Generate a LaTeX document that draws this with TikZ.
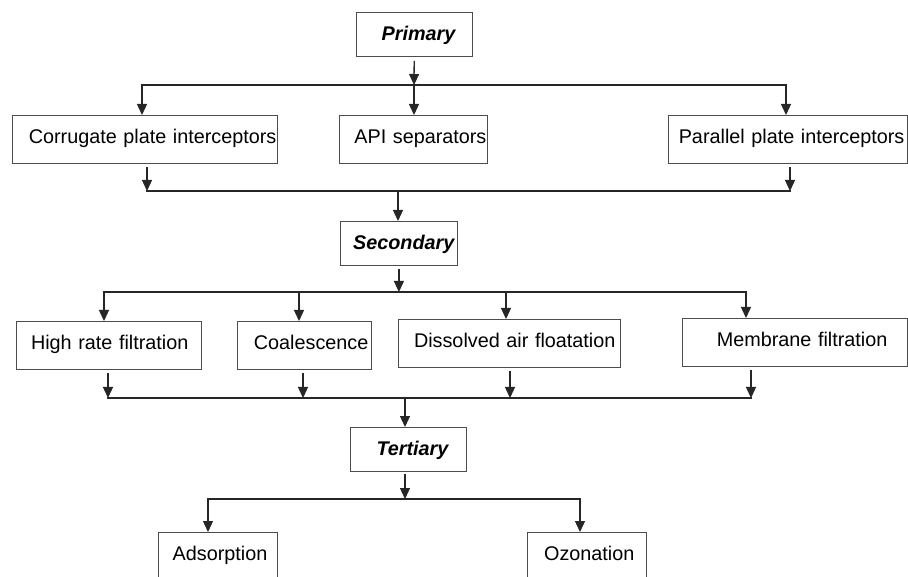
\documentclass[tikz,border=0pt]{standalone}
\usepackage{fontspec}
\setmainfont{Liberation Sans}
\usetikzlibrary{arrows.meta, positioning, calc}

\begin{document}
\begin{tikzpicture}[
    x=1pt, y=-1pt,
    box/.style={rectangle, draw=black!70, line width=0.8pt, anchor=north west,
                minimum height=48pt, inner xsep=1pt, inner ysep=0pt,
                text height=13pt, text depth=4pt, align=right,
                font=\fontsize{19.8}{23}\selectfont},
    stage/.style={box, minimum height=44pt, text height=15pt, text depth=2pt,
                font=\fontsize{19.8}{23}\selectfont\bfseries\itshape},
    arrow/.style={-{Triangle[length=11pt, width=10pt]}, line width=1.3pt, black!85},
    bus/.style={line width=1.3pt, black!85, line cap=rect}
]
    \useasboundingbox (0,0) rectangle (908,577);

    % stages
    \node[stage, minimum width=116pt, text width=82pt] (primary) at (356,12) {Primary};
    \node[stage, minimum width=117pt, text width=111pt] (secondary) at (340,221) {Secondary};
    \node[stage, minimum width=116pt, text width=80pt] (tertiary) at (350,427) {Tertiary};

    % primary methods
    \node[box, minimum width=265pt, text width=263pt] (corrugate) at (12,115) {Corrugate plate interceptors};
    \node[box, minimum width=148pt, text width=146pt] (api) at (339,115) {API separators};
    \node[box, minimum width=239pt, text width=233pt] (parallel) at (668,115) {Parallel plate interceptors};

    % secondary methods
    \node[box, minimum width=185pt, text width=159pt] (highrate) at (16,321) {High rate filtration};
    \node[box, minimum width=134pt, text width=128pt] (coalesce) at (237,321) {Coalescence};
    \node[box, minimum width=222pt, text width=212pt] (dissolved) at (398,319) {Dissolved air floatation};
    \node[box, minimum width=225pt, text width=185pt] (membrane) at (682,318) {Membrane filtration};

    % tertiary methods
    \node[box, minimum width=119pt, text width=99pt] (adsorption) at (158,532) {Adsorption};
    \node[box, minimum width=119pt, text width=95pt] (ozonation) at (527,532) {Ozonation};

    % bus points
    \coordinate (p1) at (142,85);  \coordinate (p2) at (414,85);  \coordinate (p3) at (786,85);
    \coordinate (q1) at (147,191); \coordinate (q2) at (398,191); \coordinate (q3) at (790,191);
    \coordinate (s1) at (104,292); \coordinate (s2) at (299,292);
    \coordinate (s3) at (506,292); \coordinate (s4) at (746,292);
    \coordinate (r1) at (108,398); \coordinate (r2) at (303,398);
    \coordinate (r3) at (510,398); \coordinate (r4) at (751,398); \coordinate (r0) at (405,398);
    \coordinate (t1) at (208,499); \coordinate (t2) at (580,499); \coordinate (t0) at (405,499);

    % primary
    \draw[arrow, shorten <=4pt] (primary) -- (p2);
    \draw[bus] (p1) -- (p3);
    \foreach \c/\n in {p1/corrugate, p2/api, p3/parallel}
        \draw[arrow] (\c) -- (\c |- \n.north);
    \foreach \c/\n in {q1/corrugate, q3/parallel}
        \draw[arrow, shorten <=3pt] (\c |- \n.south) -- (\c);
    \draw[bus] (q1) -- (q3);
    \draw[arrow] (q2) -- (q2 |- secondary.north);

    % secondary
    \draw[arrow, shorten <=3pt] (secondary) -- (secondary |- s1);
    \draw[bus] (s1) -- (s4);
    \foreach \c/\n in {s1/highrate, s2/coalesce, s3/dissolved, s4/membrane}
        \draw[arrow] (\c) -- (\c |- \n.north);
    \foreach \c/\n in {r1/highrate, r2/coalesce, r3/dissolved, r4/membrane}
        \draw[arrow, shorten <=3pt] (\c |- \n.south) -- (\c);
    \draw[bus] (r1) -- (r4);
    \draw[arrow] (r0) -- (r0 |- tertiary.north);

    % tertiary
    \draw[arrow, shorten <=2pt] (t0 |- tertiary.south) -- (t0);
    \draw[bus] (t1) -- (t2);
    \draw[arrow] (t1) -- (t1 |- adsorption.north);
    \draw[arrow] (t2) -- (t2 |- ozonation.north);
\end{tikzpicture}
\end{document}
